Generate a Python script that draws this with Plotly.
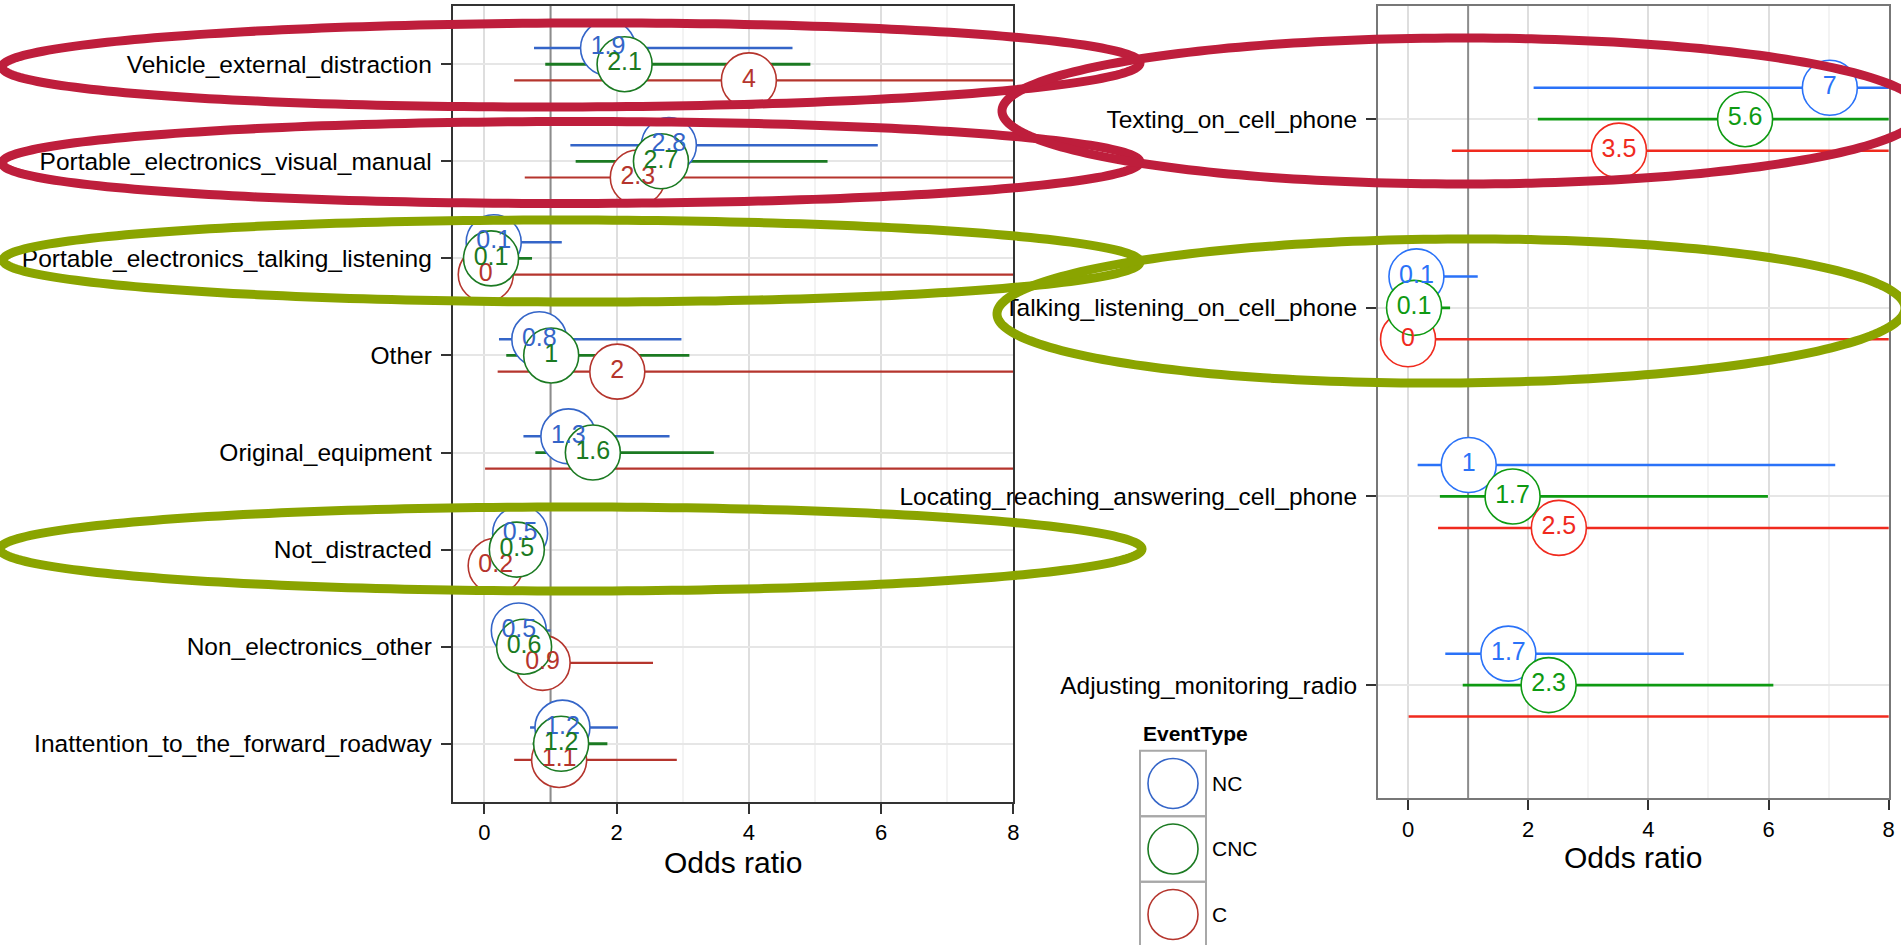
import numpy as np
import plotly.graph_objects as go

W, H = 1901, 945
FONT = "Liberation Sans, Arial, Helvetica, sans-serif"

groups = ["NC", "CNC", "C"]

# ---------------- left panel data (top -> bottom) ----------------
left_categories = [
    "Vehicle_external_distraction",
    "Portable_electronics_visual_manual",
    "Portable_electronics_talking_listening",
    "Other",
    "Original_equipment",
    "Not_distracted",
    "Non_electronics_other",
    "Inattention_to_the_forward_roadway",
]
left_or_nc = [1.87, 2.79, 0.14, 0.83, 1.27, 0.54, 0.52, 1.18]
left_lo_nc = [0.75, 1.30, 0.02, 0.22, 0.59, 0.35, 0.20, 0.69]
left_hi_nc = [4.66, 5.95, 1.17, 2.98, 2.80, 0.80, 1.00, 2.02]
left_or_cnc = [2.12, 2.67, 0.10, 1.01, 1.64, 0.49, 0.60, 1.16]
left_lo_cnc = [0.92, 1.38, 0.01, 0.33, 0.77, 0.30, 0.30, 0.73]
left_hi_cnc = [4.93, 5.19, 0.72, 3.10, 3.47, 0.70, 0.95, 1.86]
left_or_c = [4.00, 2.32, 0.02, 2.01, None, 0.17, 0.88, 1.13]
left_lo_c = [0.45, 0.61, 0.00, 0.20, 0.01, 0.05, 0.55, 0.45]
left_hi_c = [10.0, 10.0, 10.0, 10.0, 10.0, 0.35, 2.55, 2.91]

# ---------------- right panel data (top -> bottom) ----------------
right_categories = [
    "Texting_on_cell_phone",
    "Talking_listening_on_cell_phone",
    "Locating_reaching_answering_cell_phone",
    "Adjusting_monitoring_radio",
]
right_or_nc = [7.02, 0.14, 1.01, 1.67]
right_lo_nc = [2.09, 0.02, 0.16, 0.62]
right_hi_nc = [10.0, 1.16, 7.11, 4.59]
right_or_cnc = [5.61, 0.10, 1.74, 2.34]
right_lo_cnc = [2.16, 0.01, 0.53, 0.91]
right_hi_cnc = [10.0, 0.70, 5.99, 6.08]
right_or_c = [3.51, 0.00, 2.51, None]
right_lo_c = [0.73, 0.00, 0.50, 0.01]
right_hi_c = [10.0, 10.0, 10.0, 10.0]

x_ticks = [0, 2, 4, 6, 8]
reference_or = 1  # vertical reference line (odds ratio = 1)

left_colors = {"NC": "#3465C8", "CNC": "#1B7A22", "C": "#B5352D"}
right_colors = {"NC": "#2A72F8", "CNC": "#0E9A12", "C": "#F02A1E"}

# dodge offsets (in category units)
offsets = {"NC": 1 / 6, "CNC": 0.0, "C": -1 / 6}


def lbl(v):
    return f"{round(v, 1):g}"


def px2x(px):
    return px / W


def py2y(py):
    return 1 - py / H


panels = [
    dict(cats=left_categories, xa="x", ya="y", colors=left_colors,
         data={"NC": (left_or_nc, left_lo_nc, left_hi_nc),
               "CNC": (left_or_cnc, left_lo_cnc, left_hi_cnc),
               "C": (left_or_c, left_lo_c, left_hi_c)},
         msize=55, lw={"NC": 2.5, "CNC": 2.8, "C": 2.2}),
    dict(cats=right_categories, xa="x2", ya="y2", colors=right_colors,
         data={"NC": (right_or_nc, right_lo_nc, right_hi_nc),
               "CNC": (right_or_cnc, right_lo_cnc, right_hi_cnc),
               "C": (right_or_c, right_lo_c, right_hi_c)},
         msize=55, lw={"NC": 2.5, "CNC": 2.8, "C": 2.5}),
]

fig = go.Figure()

# reference lines at OR = 1
for p in panels:
    n = len(p["cats"])
    fig.add_trace(go.Scatter(x=[reference_or, reference_or], y=[0, n + 1], mode="lines",
                             xaxis=p["xa"], yaxis=p["ya"],
                             line=dict(color="#8C8C8C", width=2),
                             showlegend=False, hoverinfo="skip"))

# CI lines
for p in panels:
    n = len(p["cats"])
    for g in groups:
        pt, lo, hi = p["data"][g]
        xs, ys = [], []
        for i in range(n):
            yy = n - i + offsets[g]
            xs += [lo[i], hi[i], None]
            ys += [yy, yy, None]
        fig.add_trace(go.Scatter(x=xs, y=ys, mode="lines", xaxis=p["xa"], yaxis=p["ya"],
                                 line=dict(color=p["colors"][g], width=p["lw"][g]),
                                 showlegend=False, hoverinfo="skip"))

# circles (CNC drawn last, on top)
for p in panels:
    n = len(p["cats"])
    for g in ["NC", "C", "CNC"]:
        pt = p["data"][g][0]
        xs = [v for v in pt if v is not None]
        ys = [n - i + offsets[g] for i, v in enumerate(pt) if v is not None]
        fig.add_trace(go.Scatter(x=xs, y=ys, mode="markers", xaxis=p["xa"], yaxis=p["ya"],
                                 marker=dict(symbol="circle", size=p["msize"], color="white",
                                             line=dict(color=p["colors"][g], width=1.6)),
                                 showlegend=False, hoverinfo="skip"))

# value labels on top
for p in panels:
    n = len(p["cats"])
    for g in ["NC", "C", "CNC"]:
        pt = p["data"][g][0]
        xs = [v for v in pt if v is not None]
        ys = [n - i + offsets[g] for i, v in enumerate(pt) if v is not None]
        fig.add_trace(go.Scatter(x=xs, y=ys, mode="text", xaxis=p["xa"], yaxis=p["ya"],
                                 text=[lbl(v) for v in xs], textposition="middle center",
                                 textfont=dict(family=FONT, size=25, color=p["colors"][g]),
                                 showlegend=False, hoverinfo="skip"))

# custom ggplot-like legend (axis x3/y3)
key_h = 65.5
key_top = 750.7
key_left, key_right = 1140, 1206
n_keys = len(groups)
for i, g in enumerate(groups):
    fig.add_trace(go.Scatter(x=[0.5], y=[n_keys - i - 0.5], mode="markers", xaxis="x3", yaxis="y3",
                             marker=dict(symbol="circle", size=50, color="white",
                                         line=dict(color=left_colors[g], width=1.6)),
                             showlegend=False, hoverinfo="skip"))

axis_common = dict(showline=True, mirror=True, ticks="outside", ticklen=10, tickwidth=2,
                   tickcolor="#333333", zeroline=False, showgrid=True, automargin=False)

left_dom_x = [px2x(452.7), px2x(1013.3)]
left_dom_y = [py2y(802), py2y(6)]
right_dom_x = [px2x(1378), px2x(1888.7)]
right_dom_y = [py2y(798.3), py2y(6)]

nl, nr = len(left_categories), len(right_categories)

fig.update_layout(
    width=W, height=H, margin=dict(l=0, r=0, t=0, b=0, pad=0, autoexpand=False),
    paper_bgcolor="white", plot_bgcolor="white", showlegend=False,
    font=dict(family=FONT, color="black"),
    xaxis=dict(domain=left_dom_x, anchor="y", range=[-0.48, 8], tickvals=x_ticks,
               ticktext=[str(t) for t in x_ticks], gridcolor="#DEDEDE", gridwidth=1.5,
               minor=dict(dtick=1, tick0=0, showgrid=True, gridcolor="#F3F3F3", gridwidth=1.5, ticks=""),
               linecolor="#333333", linewidth=2, tickfont=dict(size=22, color="black"),
               **axis_common),
    yaxis=dict(domain=left_dom_y, anchor="x", range=[0.4, nl + 0.6],
               tickvals=[nl - i for i in range(nl)], ticktext=left_categories,
               gridcolor="#E6E6E6", gridwidth=1.5, linecolor="#333333", linewidth=2,
               tickfont=dict(size=24.5, color="black"), ticklabelstandoff=4, **axis_common),
    xaxis2=dict(domain=right_dom_x, anchor="y2", range=[-0.5, 8], tickvals=x_ticks,
                ticktext=[str(t) for t in x_ticks], gridcolor="#DEDEDE", gridwidth=1.5,
                minor=dict(dtick=1, tick0=0, showgrid=True, gridcolor="#F3F3F3", gridwidth=1.5, ticks=""),
                linecolor="#777777", linewidth=2, tickfont=dict(size=22, color="black"),
                **axis_common),
    yaxis2=dict(domain=right_dom_y, anchor="x2", range=[0.4, nr + 0.6],
                tickvals=[nr - i for i in range(nr)], ticktext=right_categories,
                gridcolor="#E6E6E6", gridwidth=1.5, linecolor="#777777", linewidth=2,
                tickfont=dict(size=24.5, color="black"), ticklabelstandoff=4, **axis_common),
    xaxis3=dict(domain=[px2x(key_left), px2x(key_right)], anchor="y3", range=[0, 1],
                visible=False, fixedrange=True, automargin=False),
    yaxis3=dict(domain=[0, py2y(key_top)], anchor="x3",
                range=[n_keys - (H - key_top) / key_h, n_keys], visible=False, fixedrange=True,
                automargin=False),
)

shapes = []
# legend key boxes
for i in range(n_keys):
    shapes.append(dict(type="rect", xref="paper", yref="paper",
                       x0=px2x(key_left), x1=px2x(key_right),
                       y0=py2y(key_top + (i + 1) * key_h), y1=py2y(key_top + i * key_h),
                       line=dict(color="#A8A8A8", width=2), layer="above"))

# hand-drawn highlight ellipses (pixel geometry: cx, cy, a, b, angle_deg, colour)
RED, OLIVE = "#BE1E3C", "#8AA400"
ellipses = [
    (571, 65, 569, 42, -0.2, RED),
    (571, 162.5, 569, 41, -0.05, RED),
    (571.5, 261, 568.5, 41, 0.09, OLIVE),
    (571, 549, 571, 42, 0.0, OLIVE),
    (1462, 111, 460, 73, 0.0, RED),
    (1451, 311, 454, 72, -0.38, OLIVE),
]
t = np.linspace(0, 2 * np.pi, 240)
for cx, cy, a, b, ang, col in ellipses:
    th = np.deg2rad(ang)
    px = cx + a * np.cos(t) * np.cos(th) - b * np.sin(t) * np.sin(th)
    py = cy + a * np.cos(t) * np.sin(th) + b * np.sin(t) * np.cos(th)
    pts = [f"{px2x(u):.5f},{py2y(v):.5f}" for u, v in zip(px, py)]
    path = "M " + " L ".join(pts) + " Z"
    shapes.append(dict(type="path", xref="paper", yref="paper", path=path,
                       line=dict(color=col, width=9), layer="above"))

fig.update_layout(shapes=shapes)

annotations = []
# axis titles
annotations.append(dict(text="Odds ratio", xref="paper", yref="paper",
                        x=px2x((452.7 + 1013.3) / 2), y=py2y(862), xanchor="center", yanchor="middle",
                        showarrow=False, font=dict(size=30, color="black", family=FONT)))
annotations.append(dict(text="Odds ratio", xref="paper", yref="paper",
                        x=px2x((1378 + 1888.7) / 2), y=py2y(857), xanchor="center", yanchor="middle",
                        showarrow=False, font=dict(size=30, color="black", family=FONT)))
# legend title and labels
annotations.append(dict(text="<b>EventType</b>", xref="paper", yref="paper",
                        x=px2x(1141), y=py2y(733), xanchor="left", yanchor="middle",
                        showarrow=False, font=dict(size=21, color="black", family=FONT)))
for i, g in enumerate(groups):
    annotations.append(dict(text=g, xref="paper", yref="paper",
                            x=px2x(1210), y=py2y(key_top + (i + 0.5) * key_h),
                            xanchor="left", yanchor="middle", showarrow=False,
                            font=dict(size=21, color="black", family=FONT)))
fig.update_layout(annotations=annotations)

fig.write_html("out.html", config={"displayModeBar": False})
